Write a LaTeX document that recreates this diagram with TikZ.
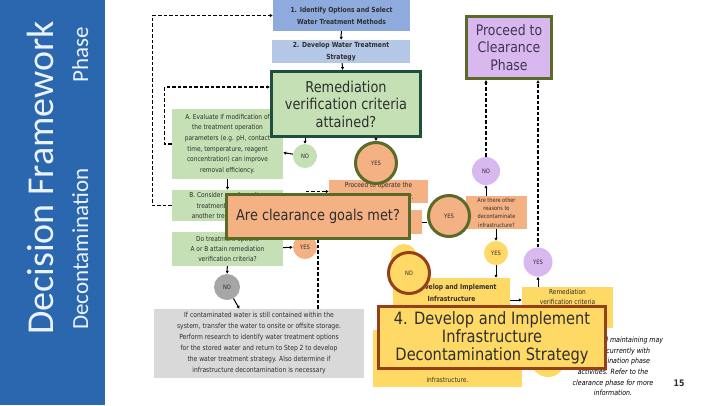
\documentclass[tikz,border=0pt]{standalone}
\usepackage{fontspec}
\setmainfont{DejaVu Sans}[FakeStretch=0.86]
\newfontfamily\barfont{Carlito}
\usetikzlibrary{arrows.meta, positioning}

\definecolor{barblue}{HTML}{2B67AF}
\definecolor{bartext}{HTML}{EAF2FB}
\definecolor{stepblue}{HTML}{8FAADC}
\definecolor{stepblue2}{HTML}{B4C7E7}
\definecolor{evalgreen}{HTML}{C5E0B4}
\definecolor{peach}{HTML}{F4B183}
\definecolor{lgray}{HTML}{D9D9D9}
\definecolor{mgray}{HTML}{A6A6A6}
\definecolor{lilac}{HTML}{D9B8EF}
\definecolor{gold}{HTML}{FFD966}
\definecolor{olive}{HTML}{5A6A28}
\definecolor{pine}{HTML}{1F4E3A}
\definecolor{rust}{HTML}{96401A}
\definecolor{inktext}{HTML}{2E2E2E}
\definecolor{plumtext}{HTML}{3E3650}

\tikzset{
    flowbox/.style = {rectangle, inner sep=1pt, align=center, text=inktext, font=\fontsize{6.8}{10.6}\selectfont},
    stepbox/.style = {flowbox, fill=stepblue, font=\bfseries\fontsize{7}{12}\selectfont},
    dot/.style = {circle, inner sep=0pt, text=inktext, font=\fontsize{6}{7}\selectfont},
    callout/.style = {rectangle, line width=3pt, align=center, text=inktext, inner sep=2pt},
    ring/.style = {dot, line width=3pt, minimum size=41},
    flowarrow/.style = {line width=1pt, -{Latex[length=3pt,width=3.5pt]}},
    dashflow/.style = {line width=1.2pt, dash pattern=on 3.5pt off 2pt, -{Latex[length=3pt,width=3.5pt]}}
}

\begin{document}
\begin{tikzpicture}[x=1pt, y=-1pt]
    \useasboundingbox (0,0) rectangle (720,405);
    \fill[white] (0,0) rectangle (720,405);

    % Side bar
    \fill[barblue] (0,0) rectangle (105,405);
    \node[rotate=90, anchor=base west, inner sep=0pt, text=bartext, font=\barfont\fontsize{38}{40}\selectfont] (title) at (53,335) {Decision Framework};
    \node[rotate=90, anchor=base west, inner sep=0pt, text=bartext, font=\barfont\fontsize{23}{25}\selectfont] (phase) at (88,330) {Decontamination\hspace{86pt}Phase};

    % Flowchart
    \node[stepbox, minimum width=137, minimum height=31] (identify) at (341.5,15.5) {1. Identify Options and Select\\Water Treatment Methods};
    \node[stepbox, fill=stepblue2, minimum width=138, minimum height=23] (develop) at (341,51.5) {2. Develop Water Treatment\\Strategy};
    \node[flowbox, fill=evalgreen, minimum width=111, minimum height=70] (evalA) at (227.5,144) {A. Evaluate if modification of\\the treatment operation\\parameters (e.g. pH, contact\\time, temperature, reagent\\concentration) can improve\\removal efficiency.};
    \node[flowbox, fill=evalgreen, minimum width=111, minimum height=31, font=\fontsize{6.8}{10.3}\selectfont] (considerB) at (227.5,205.5) {B. Consider an alternative\\treatment method or\\another treatment train.};
    \node[flowbox, fill=evalgreen, minimum width=111, minimum height=34, font=\fontsize{6.8}{10.3}\selectfont] (attainC) at (227.5,249) {Do treatment options\\A or B attain remediation\\verification criteria?};
    \node[dot, fill=evalgreen, minimum size=24] (noA) at (305,156) {NO};
    \node[dot, fill=peach, minimum size=24] (yesC) at (305,247) {YES};
    \node[dot, fill=mgray, minimum size=26] (noC) at (227,287) {NO};
    \node[flowbox, fill=lgray, minimum width=210, minimum height=69, font=\fontsize{7}{11}\selectfont] (storage) at (259,343.5) {If contaminated water is still contained within the\\system, transfer the water to onsite or offsite storage.\\Perform research to identify water treatment options\\for the stored water and return to Step 2 to develop\\the water treatment strategy. Also determine if\\infrastructure decontamination is necessary};
    \node[flowbox, fill=peach, minimum width=99, minimum height=23, font=\fontsize{6.8}{12}\selectfont] (operate) at (378.5,191.5) {Proceed to operate the\\system and treat water.};
    \node[flowbox, fill=peach, minimum width=92, minimum height=24] (goalsSmall) at (376,222) {};
    \node[flowbox, fill=peach, minimum width=61, minimum height=33, font=\fontsize{5.8}{8.3}\selectfont] (other) at (496.5,212.5) {Are there other\\reasons to\\decontaminate\\infrastructure?};
    \node[dot, fill=lilac, minimum size=28] (noP) at (486,171) {NO};
    \node[dot, fill=gold, minimum size=24] (yesY) at (496,253) {YES};
    \node[dot, fill=lilac, minimum size=29] (yesP) at (538,262) {YES};
    \node[dot, fill=gold, minimum size=26] (noSmall) at (404,257) {};
    \node[stepbox, fill=gold, minimum width=117, minimum height=44] (buildA) at (451.5,300) {4. Develop and Implement\\Infrastructure\\Decontamination Strategy};
    \node[flowbox, fill=gold, minimum width=149, minimum height=57,
          label={[flowbox, anchor=south, inner sep=4pt]south:infrastructure.}] (buildB) at (447.5,358.5) {};
    \node[flowbox, fill=gold, minimum width=91, minimum height=41,
          label={[flowbox, anchor=north, inner sep=2pt]north:Remediation\\verification criteria}] (remedBox) at (567.5,307.5) {};
    \node[dot, fill=gold, minimum size=34] (roundY) at (548,360) {};
    \node[flowbox, text=black, font=\itshape\fontsize{7.3}{10.7}\selectfont] (note) at (613,366.5) {Operating and maintaining may\\occur concurrently with\\decontamination phase\\activities. Refer to the\\clearance phase for more\\information.};

    \draw[flowarrow] (identify) -- (develop);
    \draw[flowarrow] (noA) -- (evalA);
    \draw[flowarrow] (evalA) -- (considerB);
    \draw[flowarrow] (considerB) -- (attainC);
    \draw[flowarrow] (attainC) -- (yesC);
    \draw[flowarrow] (attainC) -- (noC);
    \draw[flowarrow] (noC) -- (storage);
    \draw[flowarrow] (other.south -| yesY) -- (yesY);
    \draw[flowarrow] (yesY) -- (yesY |- buildA.north);
    \draw[flowarrow] (other.north -| noP) -- (noP);
    \draw[flowarrow] (yesP |- remedBox.north) -- (yesP);
    \draw[flowarrow] (buildA.east) -- (buildA.east -| remedBox.west);
    \draw[dashflow] (considerB.west) -- ++(-19,0) |- (identify.west);
    \draw[dashflow] (yesC) |- (operate.west);

    % Highlights
    \node[callout, fill=evalgreen, draw=pine, minimum width=149, minimum height=65, font=\fontsize{15}{17.5}\selectfont] (remed) at (346,104) {Remediation\\verification criteria\\attained?};
    \node[callout, fill=peach, draw=olive, minimum width=183, minimum height=44, font=\fontsize{15}{17.5}\selectfont] (goals) at (318,216.5) {Are clearance goals met?};
    \node[callout, fill=lilac, draw=olive, text=plumtext, minimum width=85, minimum height=62, font=\fontsize{14.5}{17.5}\selectfont] (clearance) at (509,47.5) {Proceed to\\Clearance\\Phase};
    \node[ring, fill=peach, draw=olive] (yesBig) at (376,163) {YES};
    \node[ring, fill=peach, draw=olive] (yesGoal) at (449,216) {YES};
    \node[ring, fill=gold, draw=rust] (noGoal) at (409,273) {NO};
    \node[callout, fill=gold, draw=rust, minimum width=227, minimum height=62, font=\fontsize{17}{18}\selectfont] (strategy) at (492,337.5) {4. Develop and Implement\\Infrastructure\\Decontamination Strategy};

    \draw[flowarrow] (develop) -- (remed);
    \draw[flowarrow] (remed.south -| noA) -- (noA);
    \draw[flowarrow] (remed.south -| yesBig) -- (yesBig);
    \draw[line width=1pt] (goalsSmall.east) -- (goalsSmall.east -| yesGoal.west);
    \draw[dashflow] (evalA.west) -- ++(-7,0) |- ([yshift=17pt]remed.west);
    \draw[dashflow, -] (storage.north -| goals.south) -- (goals.south);
    \draw[dashflow] (noP) -- (noP |- clearance.south);
    \draw[dashflow] (yesP) -- (yesP |- clearance.south);

    \node[font=\bfseries\fontsize{9}{10}\selectfont, text=inktext] (pagenum) at (679,383) {15};
\end{tikzpicture}
\end{document}
